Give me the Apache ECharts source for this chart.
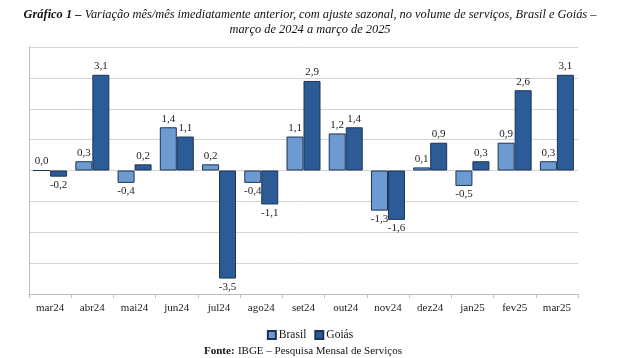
<!DOCTYPE html>
<html>
<head>
<meta charset="utf-8">
<script src="https://cdn.jsdelivr.net/npm/echarts@6/dist/echarts.min.js"></script>
<style>html,body{margin:0;padding:0;background:#fff}#c{width:620px;height:358px}</style>
</head>
<body>
<div id="c"></div>
<script>
var categories = ['mar24','abr24','mai24','jun24','jul24','ago24','set24','out24','nov24','dez24','jan25','fev25','mar25'];
var brasil = [0.0, 0.3, -0.4, 1.4, 0.2, -0.4, 1.1, 1.2, -1.3, 0.1, -0.5, 0.9, 0.3];
var goias = [-0.2, 3.1, 0.2, 1.1, -3.5, -1.1, 2.9, 1.4, -1.6, 0.9, 0.3, 2.6, 3.1];

var serif = '"Liberation Serif", "DejaVu Serif", serif';
function fmt(v){ return v.toFixed(1).replace('.', ','); }
function toData(arr){
  return arr.map(function(v){
    return { value: v, label: { position: v < 0 ? 'bottom' : 'top' } };
  });
}
var chart = echarts.init(document.getElementById('c'));
chart.setOption({
  animation: false,
  backgroundColor: '#fff',
  graphic: [{
    type: 'text', x: 310, y: 15,
    style: {
      text: '{b|Gráfico 1 –} {i|Variação mês/mês imediatamente anterior, com ajuste sazonal, no volume de serviços, Brasil e Goiás –}',
      align: 'center', verticalAlign: 'middle',
      rich: {
        b: { fontFamily: serif, fontSize: 12.4, fontWeight: 'bold', fontStyle: 'italic', fill: '#111' },
        i: { fontFamily: serif, fontSize: 12.4, fontStyle: 'italic', fill: '#111' }
      }
    }
  }, {
    type: 'text', x: 310, y: 30,
    style: {
      text: 'março de 2024 a março de 2025',
      align: 'center', verticalAlign: 'middle',
      font: 'italic 12.4px ' + serif, fill: '#111'
    }
  }, {
    type: 'text', x: 303, y: 351,
    style: {
      text: '{b|Fonte:} {n|IBGE – Pesquisa Mensal de Serviços}',
      align: 'center', verticalAlign: 'middle',
      rich: {
        b: { fontFamily: serif, fontSize: 11, fontWeight: 'bold', fill: '#111' },
        n: { fontFamily: serif, fontSize: 11, fill: '#111' }
      }
    }
  }],
  legend: {
    top: 329, left: 'center',
    itemWidth: 8, itemHeight: 8, itemGap: 8,
    icon: 'rect',
    padding: 0,
    textStyle: { fontFamily: serif, fontSize: 11.5, color: '#111', padding: [0,0,0,-2] },
    data: ['Brasil', 'Goiás']
  },
  grid: { left: 29, right: 42, top: 47, bottom: 64 },
  xAxis: {
    type: 'category',
    data: categories,
    axisLine: { show: true, onZero: false, lineStyle: { color: '#bdbdbd' } },
    axisTick: { show: true, alignWithLabel: false, length: 4, lineStyle: { color: '#bdbdbd' } },
    axisLabel: { fontFamily: serif, fontSize: 11, color: '#222', margin: 9, interval: 0 }
  },
  yAxis: {
    type: 'value', min: -4, max: 4, interval: 1,
    axisLabel: { show: false },
    axisTick: { show: false },
    axisLine: { show: true, lineStyle: { color: '#bdbdbd' } },
    splitLine: { show: true, lineStyle: { color: '#d4d4d4' } }
  },
  series: [{
    name: 'Brasil', type: 'bar',
    data: toData(brasil),
    barWidth: 17, barGap: '0%',
    itemStyle: { color: '#6d9bd1', borderColor: '#1e3354', borderWidth: 1 },
    label: { show: true, distance: 3, fontFamily: serif, fontSize: 11, color: '#222',
      formatter: function(p){ return fmt(p.value); } }
  }, {
    name: 'Goiás', type: 'bar',
    data: toData(goias),
    barWidth: 17, barGap: '0%',
    itemStyle: { color: '#2b5c97', borderColor: '#1e3354', borderWidth: 1 },
    label: { show: true, distance: 3, fontFamily: serif, fontSize: 11, color: '#222',
      formatter: function(p){ return fmt(p.value); } }
  }]
});
</script>
</body>
</html>
